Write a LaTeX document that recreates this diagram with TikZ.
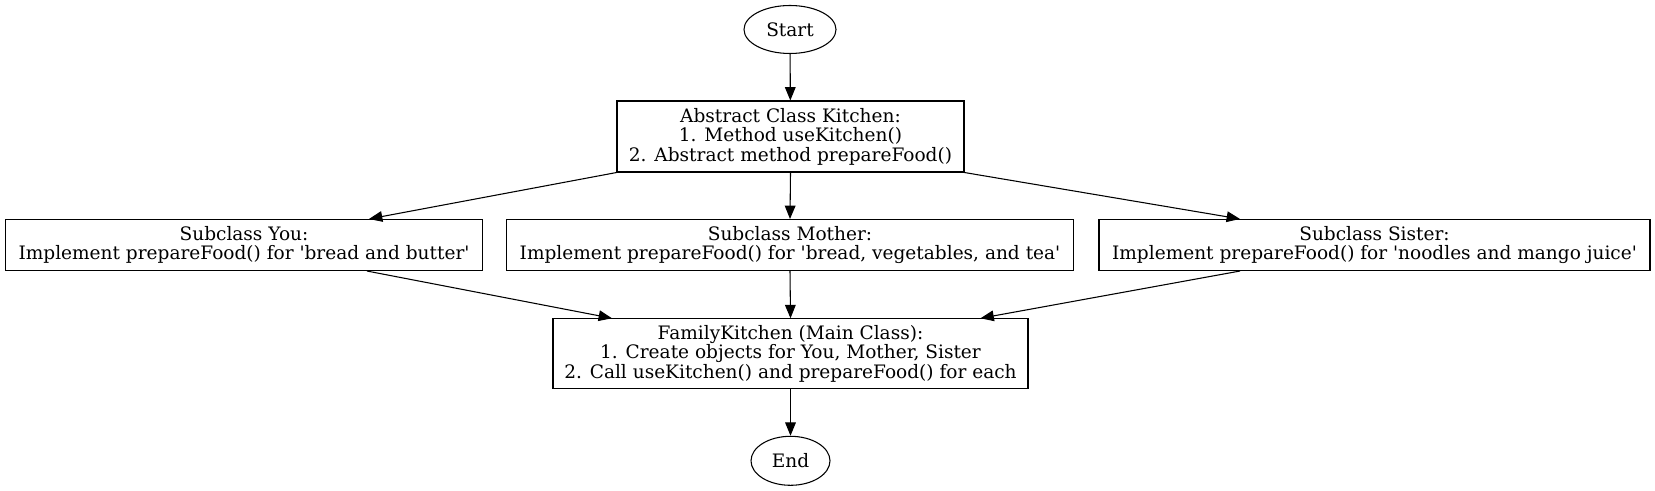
\documentclass[tikz,border=0pt]{standalone}
\usepackage{fontspec}
\setmainfont{DejaVu Serif}[Ligatures=TeXOff]
\usetikzlibrary{arrows.meta,shapes.geometric}
\begin{document}
\begin{tikzpicture}[x=0.75pt,y=-0.75pt,
  every node/.style={font=\fontsize{13.9pt}{14.6pt}\selectfont, inner sep=0pt, align=center},
  box/.style={draw, rectangle, line width=0.8pt},
  term/.style={draw, ellipse, line width=0.8pt},
  conn/.style={line width=0.8pt, -{Triangle[length=10pt,width=8pt]}}]
\useasboundingbox (0,0) rectangle (1655,491);
\node[term, minimum width=69pt, minimum height=36pt] (start) at (790,29.5) {Start};
\node[box, minimum width=260.25pt, minimum height=53.25pt] (kitchen) at (790.5,136.5)
  {Abstract Class Kitchen:\\ 1. Method useKitchen()\\ 2. Abstract method prepareFood()};
\node[box, minimum width=357.75pt, minimum height=38.25pt] (you) at (244,245)
  {Subclass You:\\ Implement prepareFood() for 'bread and butter'};
\node[box, minimum width=425.25pt, minimum height=38.25pt] (mother) at (790,245)
  {Subclass Mother:\\ Implement prepareFood() for 'bread, vegetables, and tea'};
\node[box, minimum width=413.25pt, minimum height=38.25pt] (sister) at (1374.5,245)
  {Subclass Sister:\\ Implement prepareFood() for 'noodles and mango juice'};
\node[box, minimum width=356.25pt, minimum height=52.5pt] (family) at (790.5,353.8)
  {FamilyKitchen (Main Class):\\ 1. Create objects for You, Mother, Sister\\ 2. Call useKitchen() and prepareFood() for each};
\node[term, minimum width=59.25pt, minimum height=36.75pt] (end) at (790.5,460.8) {End};
\draw[conn] (start) -- (kitchen);
\draw[conn] (kitchen.south west) -- ([xshift=93.75pt]you.north);
\draw[conn] (kitchen.south) -- (mother.north);
\draw[conn] (kitchen.south east) -- ([xshift=-100.9pt]sister.north);
\draw[conn] ([xshift=92.25pt]you.south) -- ([xshift=-133.9pt]family.north);
\draw[conn] (mother.south) -- (family.north);
\draw[conn] ([xshift=-100.9pt]sister.south) -- ([xshift=142.5pt]family.north);
\draw[conn] (family) -- (end);
\end{tikzpicture}
\end{document}
